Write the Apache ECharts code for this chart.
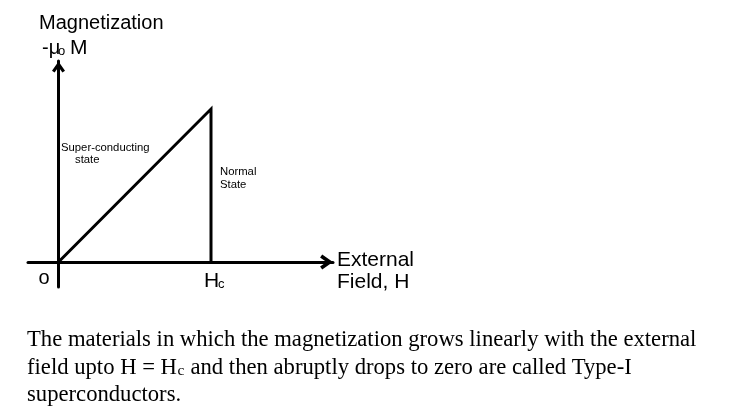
<!DOCTYPE html>
<html><head><meta charset="utf-8">
<script src="https://cdn.jsdelivr.net/npm/echarts@6/dist/echarts.min.js"></script>
<style>html,body{margin:0;padding:0;background:#fff}#c{width:734px;height:412px}</style>
</head><body><div id="c"></div>
<script>
// ---- data ----
const fieldH = [0, 1, 1];            // H in units of Hc
const magnetization = [0, 1, 0];     // -mu0 M (normalised)
const xRange = [-0.2, 1.8];
const yRange = [-0.163, 1.314];
const yTitle = ['Magnetization', '-\u03bc', 'o', 'M'];
const xTitle = ['External', 'Field, H'];
const tickLabels = ['o', 'H', 'c'];
const regionLabels = ['Super-conducting', 'state', 'Normal', 'State'];
const caption1 = 'The materials in which the magnetization grows linearly with the external';
const caption2a = 'field upto H = H';
const caption2b = 'c';
const caption2c = ' and then abruptly drops to zero are called Type-I';
const caption3 = 'superconductors.';

const SANS = '"Liberation Sans", Arial, sans-serif';
const SERIF = '"Liberation Serif", "Times New Roman", serif';
const cv = document.createElement('canvas').getContext('2d');
function measure(t, size, fam) { cv.font = size + 'px ' + fam; return cv.measureText(t).width; }

const capSize = 20 * 670 / measure(caption1, 20, SERIF);

function txt(t, x, y, size, fam, align) {
  return { type: 'text', x: x, y: y, silent: true,
    style: { text: t, fill: '#000', fontSize: size, fontFamily: fam,
      align: align || 'left', verticalAlign: 'middle' } };
}

const chevron = 'path://M0,10 L7,0 L14,10 L11.2,12 L7,6 L2.8,12 Z';

const chart = echarts.init(document.getElementById('c'), null, { renderer: 'canvas' });
const w2a = measure(caption2a, capSize, SERIF);
const w2b = measure(caption2b, capSize * 0.68, SERIF);
chart.setOption({
  animation: false,
  backgroundColor: '#fff',
  grid: { left: 28, right: 401, top: 61, bottom: 125 },
  xAxis: {
    type: 'value', min: xRange[0], max: xRange[1],
    axisLine: { onZero: true, lineStyle: { color: '#000', width: 3 },
      symbol: ['none', chevron], symbolSize: [15, 13], symbolOffset: [0, -6.5] },
    axisTick: { show: false }, axisLabel: { show: false }, splitLine: { show: false }
  },
  yAxis: {
    type: 'value', min: yRange[0], max: yRange[1],
    axisLine: { show: true, onZero: true, lineStyle: { color: '#000', width: 3 },
      symbol: ['none', chevron], symbolSize: [13, 12], symbolOffset: [0, -6] },
    axisTick: { show: false }, axisLabel: { show: false }, splitLine: { show: false }
  },
  series: [{
    type: 'line', data: fieldH.map((h, i) => [h, magnetization[i]]),
    showSymbol: false, symbol: 'none',
    lineStyle: { color: '#000', width: 3, join: 'miter' }
  }],
  graphic: [
    txt(yTitle[0], 39, 23.5, 20, SANS),
    txt(yTitle[1], 42, 48, 20, SANS),
    txt(yTitle[2], 58, 51.5, 13, SANS),
    txt(yTitle[3], 70, 48, 21, SANS),
    txt(xTitle[0], 337, 260, 21, SANS),
    txt(xTitle[1], 337, 282, 21, SANS),
    txt(tickLabels[0], 44, 278, 20, SANS, 'center'),
    txt(tickLabels[1], 204, 281, 21, SANS),
    txt(tickLabels[2], 218, 284, 13, SANS),
    txt(regionLabels[0], 61, 148, 11.3, SANS),
    txt(regionLabels[1], 75, 160, 11.3, SANS),
    txt(regionLabels[2], 220, 172, 11.3, SANS),
    txt(regionLabels[3], 220, 184.5, 11.3, SANS),
    txt(caption1, 27, 340, capSize, SERIF),
    txt(caption2a, 27, 368, capSize, SERIF),
    txt(caption2b, 27 + w2a + 0.5, 371, capSize * 0.68, SERIF),
    txt(caption2c, 27 + w2a + w2b + 1, 368, capSize, SERIF),
    txt(caption3, 27, 395, capSize, SERIF)
  ]
});
</script></body></html>
